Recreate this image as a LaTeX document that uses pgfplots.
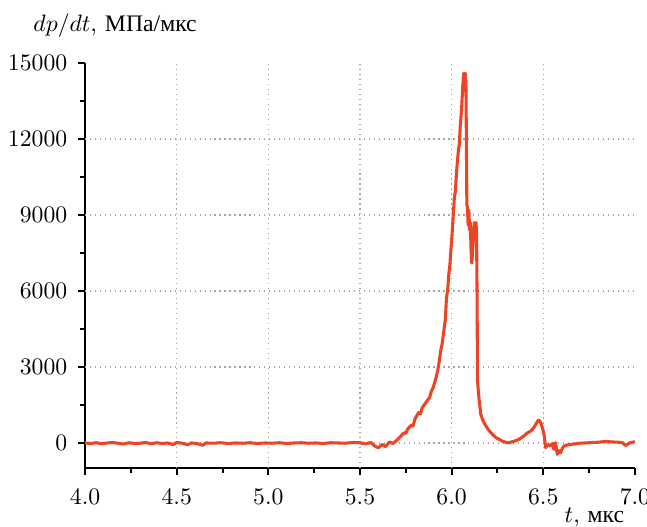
\documentclass[border=0pt]{standalone}
\usepackage{fontspec}
\usepackage{pgfplots}
\pgfplotsset{compat=1.18}
\newfontfamily\cyr{Liberation Serif}
\definecolor{curve}{RGB}{238,68,38}
\begin{document}
\begin{tikzpicture}
\begin{axis}[
 scale only axis, width=232pt, height=171pt,
 xmin=4, xmax=7, ymin=-1000, ymax=15000,
 axis lines=left, axis line style={-, line width=0.85pt},
 xtick={4,4.5,5,5.5,6,6.5,7}, minor x tick num=1,
 ytick={0,3000,6000,9000,12000,15000}, minor y tick num=1,
 scaled y ticks=false,
 tick align=outside, major tick length=3pt, minor tick length=2pt,
 tick style={line width=0.85pt, black},
 xticklabel style={yshift=-2.5pt, /pgf/number format/fixed, /pgf/number format/fixed zerofill, /pgf/number format/precision=1},
 yticklabel style={xshift=-1pt, /pgf/number format/fixed, /pgf/number format/1000 sep={}},
 extra x ticks={4.5,5,5.5,6,6.5}, extra x tick labels={},
 extra y ticks={0,3000,6000,9000,12000}, extra y tick labels={},
 extra tick style={grid=major, major tick length=0pt},
 grid style={gray!70, dash pattern=on 0.5pt off 1.6pt, line width=0.5pt},
 every axis y label/.style={at={(rel axis cs:0,1)}, anchor=base west, xshift=-25.3pt, yshift=13.5pt},
 every axis x label/.style={at={(rel axis cs:1,0)}, anchor=base east, xshift=-1pt, yshift=-23pt},
 ylabel={$dp/dt$, {\cyr МПа/мкс}},
 xlabel={$t$, {\cyr мкс}},
 clip=false,
]
\addplot[curve, line width=1.3pt, line join=round] table {
4.00 0
4.03 -20
4.06 10
4.09 -30
4.12 0
4.15 20
4.18 -10
4.21 -40
4.24 10
4.27 -20
4.30 -10
4.33 20
4.36 -30
4.39 10
4.42 -20
4.45 0
4.48 -60
4.50 20
4.53 -10
4.56 -70
4.58 0
4.61 -20
4.64 -90
4.66 0
4.70 -10
4.74 10
4.78 -20
4.82 0
4.86 -10
4.90 10
4.94 -20
4.98 0
5.02 -10
5.06 10
5.10 -20
5.14 0
5.18 10
5.22 -10
5.26 0
5.30 -20
5.34 10
5.38 0
5.42 -10
5.46 20
5.50 10
5.53 -40
5.56 20
5.58 -120
5.60 -190
5.62 -60
5.64 -140
5.66 40
5.68 -20
5.70 100
5.72 250
5.74 400
5.75 380
5.76 550
5.78 700
5.79 680
5.80 950
5.82 1200
5.83 1150
5.84 1400
5.86 1600
5.87 1700
5.88 1800
5.89 2050
5.90 2200
5.915 2580
5.925 2900
5.93 3100
5.94 3640
5.948 3900
5.955 4300
5.965 4830
5.972 5750
5.978 6000
5.985 6700
5.990 7000
5.996 7600
6.002 8200
6.008 8900
6.015 9700
6.020 9900
6.026 10600
6.030 11000
6.037 11555
6.042 11800
6.047 12500
6.054 13140
6.060 14000
6.066 14600
6.070 14400
6.074 14600
6.078 14200
6.081 11500
6.083 9400
6.086 9300
6.090 8600
6.094 9200
6.098 8400
6.102 8700
6.106 7600
6.110 7100
6.114 7500
6.118 8000
6.123 8700
6.128 8600
6.133 8700
6.136 8300
6.139 5600
6.141 2450
6.150 1700
6.159 1135
6.170 900
6.187 670
6.205 480
6.223 340
6.240 220
6.259 145
6.28 60
6.30 20
6.314 10
6.33 50
6.35 90
6.368 145
6.395 280
6.41 380
6.432 475
6.45 620
6.459 740
6.473 900
6.480 880
6.486 800
6.495 600
6.504 340
6.513 -185
6.525 -60
6.54 -110
6.55 -20
6.558 -250
6.567 10
6.576 -450
6.585 -300
6.594 -390
6.605 -200
6.613 -120
6.63 -80
6.658 -50
6.70 -10
6.75 10
6.80 30
6.84 60
6.88 40
6.93 20
6.95 -100
6.97 0
7.00 50
};
\end{axis}
\pgfresetboundingbox
\path[use as bounding box] ([shift={(-35.9pt,-24.5pt)}]current axis.south west) rectangle ([shift={(5.1pt,26.6pt)}]current axis.north east);
\end{tikzpicture}
\end{document}
